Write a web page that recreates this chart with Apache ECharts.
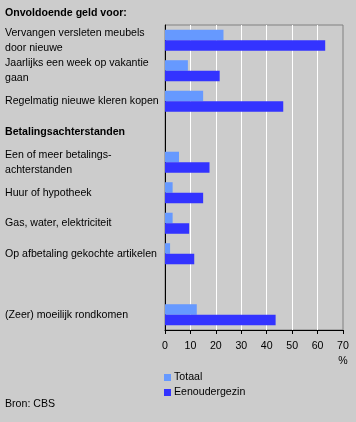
<!DOCTYPE html>
<html>
<head>
<meta charset="utf-8">
<script src="https://cdn.jsdelivr.net/npm/echarts@6/dist/echarts.min.js"></script>
<style>html,body{margin:0;padding:0;background:#cccccc}#c{width:356px;height:422px}</style>
</head>
<body>
<div id="c"></div>
<script>
var categories = [
  'Vervangen versleten meubels\ndoor nieuwe',
  'Jaarlijks een week op vakantie\ngaan',
  'Regelmatig nieuwe kleren kopen',
  'Betalingsachterstanden',
  'Een of meer betalings-\nachterstanden',
  'Huur of hypotheek',
  'Gas, water, elektriciteit',
  'Op afbetaling gekochte artikelen',
  '',
  '(Zeer) moeilijk rondkomen'
];
var headerCategories = ['Betalingsachterstanden'];
var totaal = [23, 9, 15, null, 5.5, 3, 3, 2, null, 12.5];
var eenoudergezin = [63, 21.5, 46.5, null, 17.5, 15, 9.5, 11.5, null, 43.5];
var xTicks = [0, 10, 20, 30, 40, 50, 60, 70];
var seriesNames = ['Totaal', 'Eenoudergezin'];
var titleText = 'Onvoldoende geld voor:';
var sourceText = 'Bron: CBS';
var unitText = '%';

var FONT = 'Arial, "Liberation Sans", sans-serif';
var FS = 10.6;
var chart = echarts.init(document.getElementById('c'), null, {renderer: 'canvas'});
chart.setOption({
  backgroundColor: '#cccccc',
  animation: false,
  textStyle: {fontFamily: FONT, color: '#000'},
  title: [
    {text: titleText, left: 5, top: 8, padding: 0, textStyle: {fontFamily: FONT, fontSize: FS, fontWeight: 'bold', color: '#000'}},
    {text: sourceText, left: 5, top: 399, padding: 0, textStyle: {fontFamily: FONT, fontSize: FS, fontWeight: 'normal', color: '#000'}}
  ],
  legend: {
    orient: 'vertical', left: 164, top: 372, padding: 0,
    itemWidth: 7, itemHeight: 7, itemGap: 4,
    icon: 'rect',
    textStyle: {fontFamily: FONT, fontSize: FS, color: '#000', padding: [0, 0, 0, -2]},
    data: seriesNames
  },
  grid: {left: 165, right: 13, top: 25, bottom: 92, show: true, borderColor: '#808080', borderWidth: 1, backgroundColor: 'transparent'},
  xAxis: {
    type: 'value', min: xTicks[0], max: xTicks[xTicks.length - 1], interval: 10,
    axisLine: {show: true, lineStyle: {color: '#000'}},
    axisTick: {show: true, length: 4, lineStyle: {color: '#000'}},
    axisLabel: {color: '#000', fontSize: FS, fontFamily: FONT, margin: 9, lineHeight: 15,
      formatter: function (v) { return v === xTicks[xTicks.length - 1] ? v + '\n' + unitText : String(v); }},
    splitLine: {show: true, showMinLine: false, showMaxLine: false, lineStyle: {color: '#ffffff', width: 1}}
  },
  yAxis: {
    type: 'category', data: categories, inverse: true,
    axisLine: {show: true, lineStyle: {color: '#000'}},
    axisTick: {show: false},
    axisLabel: {
      align: 'left', margin: 160, fontSize: FS, fontFamily: FONT, color: '#000', lineHeight: 15,
      formatter: function (v) { return headerCategories.indexOf(v) >= 0 ? '{h|' + v + '}' : v; },
      rich: {h: {fontWeight: 'bold', fontSize: FS, fontFamily: FONT, color: '#000'}}
    }
  },
  series: [
    {name: seriesNames[0], type: 'bar', data: totaal, itemStyle: {color: '#6699ff'}, barGap: '0%', barCategoryGap: '31%'},
    {name: seriesNames[1], type: 'bar', data: eenoudergezin, itemStyle: {color: '#3333ff'}, barGap: '0%', barCategoryGap: '31%'}
  ]
});
</script>
</body>
</html>
